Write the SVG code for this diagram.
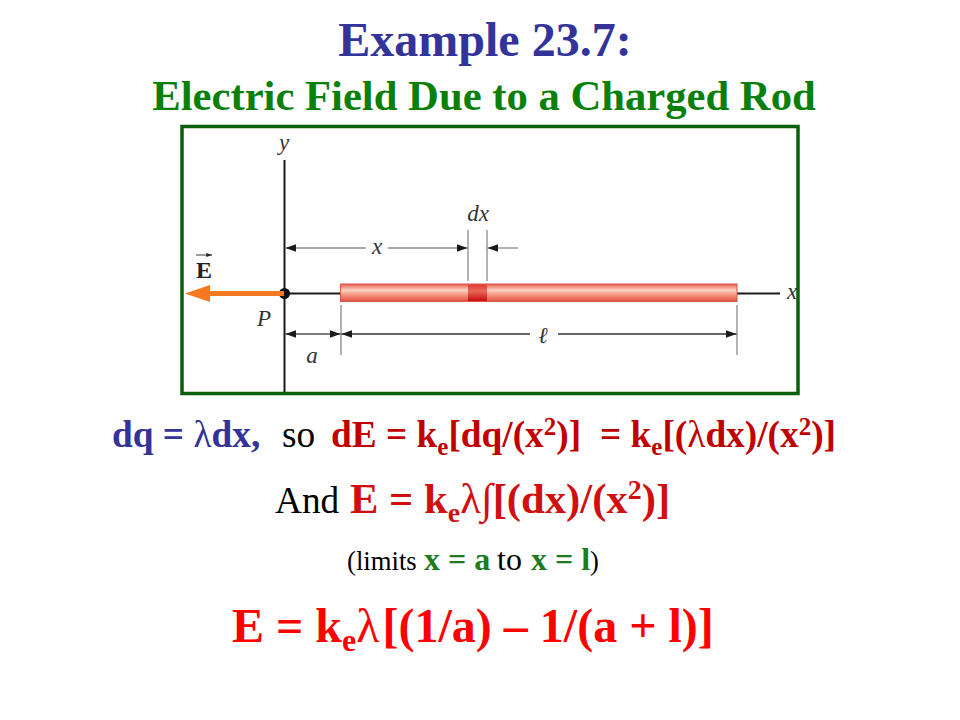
<svg xmlns="http://www.w3.org/2000/svg" width="960" height="720" viewBox="0 0 960 720">
<defs>
<style>
.serif{font-family:"Liberation Serif","Times New Roman",serif}
.b{font-weight:bold}
.lbl{font-family:"Liberation Serif","Times New Roman",serif;font-style:italic;font-size:23px;fill:#333}
.dim{stroke:#8a8a8a;stroke-width:1.3;fill:none}
.dimd{stroke:#333;stroke-width:1.3;fill:none}
.blue{fill:#333399}
.dred{fill:#C00000}
.bred{fill:#FF0000}
.grn{fill:#1E7B1E}
.blk{fill:#000}
</style>
<marker id="ah" viewBox="0 0 10 7" refX="10" refY="3.5" markerWidth="11" markerHeight="7.5" markerUnits="userSpaceOnUse" orient="auto">
<path d="M0,0 L10,3.5 L0,7 z" fill="#1a1a1a"/>
</marker>
<marker id="ahs" viewBox="0 0 10 7" refX="10" refY="3.5" markerWidth="6" markerHeight="4" markerUnits="userSpaceOnUse" orient="auto">
<path d="M0,0 L10,3.5 L0,7 z" fill="#222"/>
</marker>
<linearGradient id="rodg" x1="0" y1="0" x2="0" y2="1">
<stop offset="0" stop-color="#e55a48"/>
<stop offset="0.35" stop-color="#fcd2c4"/>
<stop offset="0.6" stop-color="#f49a86"/>
<stop offset="1" stop-color="#e2503e"/>
</linearGradient>
<linearGradient id="dxg" x1="0" y1="0" x2="0" y2="1">
<stop offset="0" stop-color="#e23a30"/>
<stop offset="0.4" stop-color="#e86a5a"/>
<stop offset="1" stop-color="#c80a0a"/>
</linearGradient>
</defs>
<rect width="960" height="720" fill="#fff"/>

<g id="title">
<text x="485" y="56" text-anchor="middle" class="serif b blue" font-size="48">Example 23.7:</text>
<text x="484" y="110" text-anchor="middle" class="serif b" fill="#0a800a" font-size="42.67">Electric Field Due to a Charged Rod</text>
</g>

<g id="figure-frame">
<rect x="182" y="126.5" width="616" height="267" fill="#fff" stroke="#0a600a" stroke-width="3.5"/>
</g>

<g id="axes">
<line x1="284.5" y1="160" x2="284.5" y2="392" stroke="#1a1a1a" stroke-width="2"/>
<line x1="284.5" y1="293.5" x2="780" y2="293.5" stroke="#1a1a1a" stroke-width="2"/>
<text class="lbl" x="284" y="150" text-anchor="middle">y</text>
<text class="lbl" x="792" y="299" text-anchor="middle">x</text>
</g>

<g id="rod">
<rect x="340.5" y="284" width="396.5" height="17.5" fill="url(#rodg)" stroke="#d8574a" stroke-width="1"/>
<rect x="468" y="284.5" width="19" height="16.5" fill="url(#dxg)"/>
</g>

<g id="point-P">
<circle cx="284.5" cy="293.5" r="5.5" fill="#111"/>
<text class="lbl" x="264" y="326" text-anchor="middle" font-size="25">P</text>
</g>

<g id="field-E">
<line x1="284" y1="293.5" x2="208" y2="293.5" stroke="#F47920" stroke-width="5"/>
<polygon points="185,293.5 210,285 210,302" fill="#F47920"/>
<text x="204" y="278" text-anchor="middle" class="serif b" font-size="24" fill="#222">E</text>
<line x1="196" y1="255" x2="212" y2="255" stroke="#222" stroke-width="0.9" marker-end="url(#ahs)"/>
</g>

<g id="connectors">
<line class="dim" x1="468" y1="230" x2="468" y2="281"/>
<line class="dim" x1="487" y1="230" x2="487" y2="281"/>
<line class="dim" x1="366" y1="248" x2="285.5" y2="248" marker-end="url(#ah)"/>
<line class="dim" x1="388" y1="248" x2="467.5" y2="248" marker-end="url(#ah)"/>
<line class="dim" x1="518" y1="248" x2="487.5" y2="248" marker-end="url(#ah)"/>
<line class="dim" x1="341" y1="305" x2="341" y2="355"/>
<line class="dim" x1="737" y1="305" x2="737" y2="355"/>
<line class="dimd" x1="313" y1="334" x2="285.5" y2="334" marker-end="url(#ah)"/>
<line class="dimd" x1="313" y1="334" x2="340.5" y2="334" marker-end="url(#ah)"/>
<line class="dimd" x1="530" y1="334" x2="341.5" y2="334" marker-end="url(#ah)"/>
<line class="dimd" x1="558" y1="334" x2="736.5" y2="334" marker-end="url(#ah)"/>
</g>

<g id="dim-labels">
<text class="lbl" x="377" y="254" text-anchor="middle">x</text>
<text class="lbl" x="478" y="221" text-anchor="middle">dx</text>
<text class="lbl" x="312" y="363" text-anchor="middle">a</text>
<text class="lbl" x="543" y="343" text-anchor="middle">ℓ</text>
</g>

<g id="eq1" class="serif" font-size="37.3">
<text x="112" y="447" class="b blue">dq = <tspan font-weight="normal">λ</tspan>dx,</text>
<text x="282" y="447" class="blk">so</text>
<text x="331" y="447" class="b dred">dE = k<tspan font-size="25" dy="8">e</tspan><tspan dy="-8">[dq/(x</tspan><tspan font-size="25" dy="-12">2</tspan><tspan dy="12">)]</tspan></text>
<text x="600" y="447" class="b dred">= k<tspan font-size="25" dy="8">e</tspan><tspan dy="-8">[(</tspan><tspan font-weight="normal">λ</tspan>dx)/(x<tspan font-size="25" dy="-12">2</tspan><tspan dy="12">)]</tspan></text>
</g>

<g id="eq2" class="serif">
<text x="275" y="513" font-size="37.3" class="blk">And</text>
<text x="350" y="513" font-size="42.67" class="b" fill="#D01010">E = k<tspan font-size="28" dy="9">e</tspan><tspan dy="-9" font-weight="normal">λ∫</tspan>[(dx)/(x<tspan font-size="28" dy="-14">2</tspan><tspan dy="14">)]</tspan></text>
</g>

<g id="eq3" class="serif">
<text x="347" y="570" font-size="26.7" class="blk">(limits</text>
<text x="424" y="570" font-size="32" class="b grn">x = a</text>
<text x="497" y="570" font-size="32" class="blk">to</text>
<text x="531" y="570" font-size="32" class="b grn">x = l</text>
<text x="590" y="570" font-size="26.7" class="blk">)</text>
</g>

<g id="eq4" class="serif">
<text x="232" y="642" font-size="48" class="b bred">E = k<tspan font-size="32" dy="9">e</tspan><tspan dy="-9" font-weight="normal">λ</tspan><tspan dx="3">[(1/a) – 1/(a + l)]</tspan></text>
</g>
</svg>
